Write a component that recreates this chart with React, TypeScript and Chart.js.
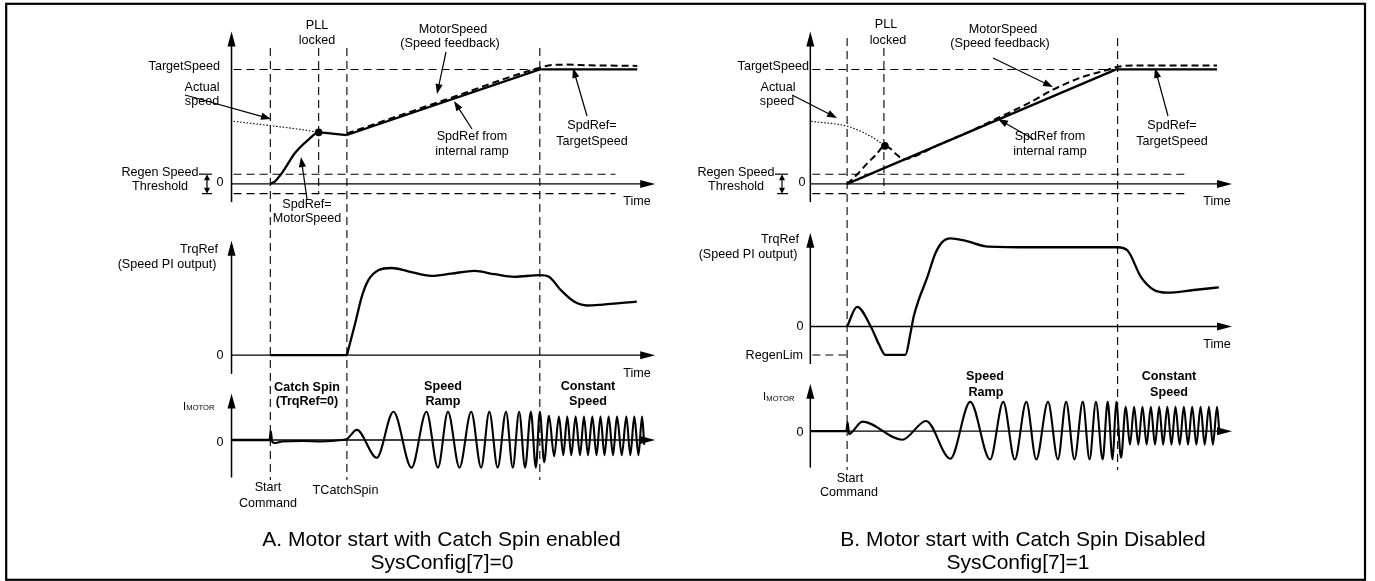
import React, { useEffect, useRef } from "react";
import { Chart, registerables } from "chart.js";

Chart.register(...registerables);

type Pt = [number, number];

// ======================= DATA =======================
// t = time units (same for both panels); speed in % of TargetSpeed;
// TrqRef in % of ramp torque; IMOTOR in % of ramp current amplitude.

// ---- Panel A: Catch Spin enabled (SysConfig[7]=0) ----
const eventTimesA = [9.75, 21.9, 29, 77.5]; // Start Command, PLL locked, TCatchSpin, end of ramp
const spdRefCatchA: Pt[] = [[9.75, 0], [11, 2.5], [12.75, 9.9], [16, 27.2], [19.5, 39.2], [21.9, 45], [25.25, 44], [29, 42.7]];
const spdRefRampA: Pt[] = [[29, 42.7], [77.5, 100], [102, 100]];
const motorSpeedA: Pt[] = [[29, 44], [53, 72.6], [77.5, 101.6], [80, 103.6], [84, 104.2], [90, 103.6], [102, 103.1]];
const actualSpeedA: Pt[] = [[0.5, 54.7], [9.75, 50.9], [17.75, 47.4], [21.9, 45]];
const pllLockA: Pt[] = [[21.9, 45]];
const trqZeroA: Pt[] = [[9.75, 0], [29, 0]];
const trqRefA: Pt[] = [[29, 0], [31.1, 40.8], [32.75, 74.2], [34.4, 95], [36.9, 107.5], [40.25, 110.4], [44.4, 106.25], [50.25, 100.4], [55.25, 103.3], [61.1, 106.7], [66.1, 102.5], [71.1, 99.2], [77.5, 101.25], [79.8, 99.2], [82.75, 82.5], [86.1, 67.9], [89.4, 62.9], [92.75, 63.75], [101.9, 67.9]];
const curIdleA: Pt[] = [[0, 0], [9.6, 0]];
const curMotorA: Pt[] = [[9.6, 0], [9.85, 30], [10.25, -6.7], [11, -10], [12.75, -5], [17.75, -3.3], [22.75, -5], [27.75, 0], [29, 3.3], [31.5, 34.3], [36.5, -60], [40.7, 95.7], [45.25, -93.3], [49, 95.7], [51.9, -93.3], [54.4, 95.7], [57.3, -93.3], [60.25, 95.7], [62.75, -93.3], [64.8, 95.7], [66.9, -93.3], [69, 95.7], [70.7, -93.3], [72.3, 95.7], [73.8, -93.3], [75.25, 95.7], [76.5, -93.3], [77.5, 95.7], [78.6, -75], [79.8, 82], [81.1, -55], [82.3, 79], [83.4, -51], [84.4, 79], [85.4, -51], [86.5, 79], [87.6, -51], [88.6, 79], [89.6, -51], [90.7, 79], [91.75, -51], [92.75, 79], [93.75, -51], [94.8, 79], [95.9, -51], [96.9, 79], [98.1, -51], [99.25, 79], [100.25, -51], [101.25, 79], [102.3, -51], [103.2, 79], [103.75, -16]];

// ---- Panel B: Catch Spin disabled (SysConfig[7]=1) ----
const eventTimesB = [9.25, 18.5, 77.25]; // Start Command, PLL locked, end of ramp
const spdRefRampB: Pt[] = [[9.25, 0], [76.9, 100], [102.25, 100]];
const motorSpeedB: Pt[] = [[9.25, 0], [11.75, 8.2], [14.25, 17.7], [16.5, 25.4], [18.75, 33.2], [20.25, 30.5], [21.75, 25.4], [23.5, 21.5], [26, 23.7], [32.25, 34.1], [39.75, 45.3], [47.25, 57.8], [54.75, 70.3], [61, 82.3], [68.5, 93.5], [74.75, 99.6], [77.25, 102.3], [82.25, 103.4], [102.25, 103.4]];
const actualSpeedB: Pt[] = [[0.2, 54.7], [9.3, 50.4], [13.1, 45.3], [16, 39.9], [18.75, 33.2]];
const pllLockB: Pt[] = [[18.75, 33.2]];
const trqRefB: Pt[] = [[9.25, 0], [11.75, 25], [15.2, 0], [17.25, -22.5], [18.9, -36], [23.9, -36], [25.2, -7.9], [26, 12.9], [27.25, 33.75], [29.3, 60.9], [31.4, 92.1], [33.1, 106.6], [35.2, 111.7], [38.9, 108.75], [44.75, 101.25], [56, 100.4], [77.25, 100.4], [79.75, 96.25], [83.1, 62.9], [86.4, 46.25], [89.75, 42.9], [96.4, 46.25], [102.7, 49.6]];
const curIdleB: Pt[] = [[0, 0], [9.1, 0]];
const curMotorB: Pt[] = [[9.1, 0], [9.375, 30], [9.75, -10], [10.5, -3], [13.1, 32.2], [23.1, -28.9], [29.1, 34.4], [35.2, -93.3], [40.2, 98.9], [45.2, -95.6], [48.5, 98.9], [51.4, -95.6], [54.3, 98.9], [56.8, -95.6], [59.75, 98.9], [62.25, -95.6], [64.3, 98.9], [66.4, -95.6], [68.5, 98.9], [70.2, -95.6], [71.8, 98.9], [73.5, -95.6], [74.75, 98.9], [76, -95.6], [76.9, 98.9], [78.1, -90], [79.3, 82], [80.35, -45.7], [81.4, 82], [82.45, -45.7], [83.5, 82], [84.55, -45.7], [85.6, 82], [86.65, -45.7], [87.7, 82], [88.7, -45.7], [89.75, 82], [90.8, -45.7], [91.8, 82], [92.85, -45.7], [93.9, 82], [94.95, -45.7], [96, 82], [97.05, -45.7], [98.1, 82], [99.15, -45.7], [100.2, 82], [101.2, -45.7], [102.25, 82], [102.8, 0]];

// reference levels
const targetSpeed = 100;
const regenSpeedThreshold = 8.5;
const regenLimB = -36;

// ======================= LAYOUT =======================
const W = 1375;
const H = 581;
const FONT = '"Liberation Sans", Arial, Helvetica, sans-serif';
const PX = { t: 4, spd: 1.16, trq: 0.8, cur: 0.3 };
const ORIGIN = {
  A: { x0: 229, spd0: 182.5, trq0: 356, cur0: 442 },
  B: { x0: 811, spd0: 182.5, trq0: 327, cur0: 433 },
};

const PANELS = [
  {
    x: "xA", s: "ySA", q: "yTA", i: "yIA",
    axSpd: [-15.9, 133.2], axTrq: [-23.75, 145], axCur: [-126.7, 156.7], tEnd: 106.5,
    targetEnd: 77.5, thrEnd: 96.5,
    events: eventTimesA, eventSpan: [[48, 480], [48, 193], [48, 480], [48, 480]],
    regenLim: null as null | number,
  },
  {
    x: "xB", s: "ySB", q: "yTB", i: "yIB",
    axSpd: [-15.9, 133.2], axTrq: [-47.5, 118.75], axCur: [-123.3, 160], tEnd: 106,
    targetEnd: 76.5, thrEnd: 94.25,
    events: eventTimesB, eventSpan: [[38, 470], [48, 193], [38, 470]],
    regenLim: regenLimB as null | number,
  },
];

// [text, x, y, align, style]
const TEXTS: [string, number, number, string?, string?][] = [
  ["PLL", 317, 26], ["locked", 317, 41],
  ["TargetSpeed", 220, 66.5, "r"],
  ["Actual", 202, 88], ["speed", 202, 102],
  ["MotorSpeed", 453, 30], ["(Speed feedback)", 450, 44],
  ["SpdRef from", 472, 137], ["internal ramp", 472, 152],
  ["SpdRef=", 592, 126], ["TargetSpeed", 592, 142],
  ["Regen Speed", 160, 173], ["Threshold", 160, 187],
  ["0", 220, 182.5],
  ["Time", 637, 202],
  ["SpdRef=", 307, 205], ["MotorSpeed", 307, 219],
  ["TrqRef", 199, 250], ["(Speed PI output)", 167, 265],
  ["0", 220, 356],
  ["Time", 637, 374],
  ["Catch Spin", 307, 388, "c", "b"], ["(TrqRef=0)", 307, 402, "c", "b"],
  ["Speed", 443, 387, "c", "b"], ["Ramp", 443, 402, "c", "b"],
  ["Constant", 588, 387, "c", "b"], ["Speed", 588, 402, "c", "b"],
  ["0", 220, 442.5],
  ["Start", 268, 488], ["Command", 268, 504],
  ["TCatchSpin", 345.5, 491],
  ["A. Motor start with Catch Spin enabled", 441.5, 540, "c", "t"],
  ["SysConfig[7]=0", 442, 563, "c", "t"],

  ["PLL", 886, 25], ["locked", 888, 41],
  ["TargetSpeed", 809, 66.5, "r"],
  ["Actual", 778, 88], ["speed", 777, 102],
  ["MotorSpeed", 1003, 30], ["(Speed feedback)", 1000, 44],
  ["SpdRef from", 1050, 137], ["internal ramp", 1050, 152],
  ["SpdRef=", 1172, 126], ["TargetSpeed", 1172, 142],
  ["Regen Speed", 736, 173], ["Threshold", 736, 187],
  ["0", 802, 182.5],
  ["Time", 1217, 202],
  ["TrqRef", 780, 240], ["(Speed PI output)", 748, 255],
  ["0", 800, 327],
  ["RegenLim", 803, 356, "r"],
  ["Time", 1217, 345],
  ["Speed", 985, 377, "c", "b"], ["Ramp", 986, 393, "c", "b"],
  ["Constant", 1169, 377, "c", "b"], ["Speed", 1169, 393, "c", "b"],
  ["0", 800, 433],
  ["Start", 850, 479], ["Command", 849, 493],
  ["B. Motor start with Catch Spin Disabled", 1023, 540, "c", "t"],
  ["SysConfig[7]=1", 1018, 563, "c", "t"],
];

// I_MOTOR labels: [x of "I", y]
const IMOTOR_LABELS: [number, number][] = [[183, 406.5], [763, 397]];

// annotation arrows [x1, y1, x2(tip), y2(tip)]
const POINTERS: [number, number, number, number][] = [
  [185, 95, 271, 119], [446, 52, 437, 94], [472, 129, 454, 101], [587, 116, 573, 68], [307, 199, 301, 157],
  [792, 95, 837, 118], [993, 58, 1053, 87], [1033, 139, 998, 119], [1168, 116, 1155, 68],
];
// Regen speed threshold double arrows: [x, textEnd, tickEnd]
const THR_MARKS: [number, number, number, number][] = [[207, 199, 202, 212], [782, 775, 777, 788]];

// ======================= HELPERS =======================
function xRange(originPx: number, ppu: number) {
  const min = -originPx / ppu;
  return { min, max: min + W / ppu };
}
function yRange(zeroPx: number, ppu: number) {
  const max = zeroPx / ppu;
  return { min: max - H / ppu, max };
}
function xScale(originPx: number) {
  return { type: "linear", axis: "x", display: false, bounds: "data", ...xRange(originPx, PX.t) };
}
function yScale(zeroPx: number, ppu: number) {
  return { type: "linear", axis: "y", display: false, bounds: "data", ...yRange(zeroPx, ppu) };
}

function line(points: Pt[], x: string, y: string, opts: any = {}) {
  return {
    type: "line",
    data: points.map(([a, b]) => ({ x: a, y: b })),
    xAxisID: x,
    yAxisID: y,
    borderColor: "#000",
    borderWidth: opts.width ?? 2.3,
    borderDash: opts.dash ?? [],
    borderCapStyle: "butt",
    borderJoinStyle: "round",
    cubicInterpolationMode: opts.smooth ? "monotone" : "default",
    tension: 0,
    pointRadius: 0,
    pointHoverRadius: 0,
    fill: false,
    showLine: true,
  };
}
function dot(points: Pt[], x: string, y: string) {
  return {
    type: "line",
    data: points.map(([a, b]) => ({ x: a, y: b })),
    xAxisID: x,
    yAxisID: y,
    showLine: false,
    pointRadius: 3.8,
    pointHoverRadius: 3.8,
    pointBackgroundColor: "#000",
    pointBorderColor: "#000",
    pointBorderWidth: 0,
  };
}

function seg(ctx: CanvasRenderingContext2D, x1: number, y1: number, x2: number, y2: number, w: number, dash: number[] = []) {
  ctx.save();
  ctx.strokeStyle = "#000";
  ctx.lineWidth = w;
  ctx.setLineDash(dash);
  ctx.beginPath();
  ctx.moveTo(x1, y1);
  ctx.lineTo(x2, y2);
  ctx.stroke();
  ctx.restore();
}
function head(ctx: CanvasRenderingContext2D, x1: number, y1: number, x2: number, y2: number, len: number, half: number) {
  const a = Math.atan2(y2 - y1, x2 - x1);
  const c = Math.cos(a), s = Math.sin(a);
  ctx.save();
  ctx.fillStyle = "#000";
  ctx.beginPath();
  ctx.moveTo(x2, y2);
  ctx.lineTo(x2 - len * c + half * s, y2 - len * s - half * c);
  ctx.lineTo(x2 - len * c - half * s, y2 - len * s + half * c);
  ctx.closePath();
  ctx.fill();
  ctx.restore();
}
function arrow(ctx: CanvasRenderingContext2D, x1: number, y1: number, x2: number, y2: number, w: number, len: number, half: number) {
  const a = Math.atan2(y2 - y1, x2 - x1);
  seg(ctx, x1, y1, x2 - len * 0.7 * Math.cos(a), y2 - len * 0.7 * Math.sin(a), w);
  head(ctx, x1, y1, x2, y2, len, half);
}

const DASH = [8, 5];

const diagramPlugin = {
  id: "diagram",
  beforeDraw(chart: any) {
    const ctx = chart.ctx;
    ctx.save();
    ctx.fillStyle = "#fff";
    ctx.fillRect(0, 0, chart.width, chart.height);
    ctx.restore();
  },
  beforeDatasetsDraw(chart: any) {
    const ctx: CanvasRenderingContext2D = chart.ctx;
    for (const p of PANELS) {
      const X = chart.scales[p.x], S = chart.scales[p.s], Q = chart.scales[p.q], I = chart.scales[p.i];
      const x0 = X.getPixelForValue(0);
      const xEnd = X.getPixelForValue(p.tEnd);
      const axes: [any, number[]][] = [[S, p.axSpd], [Q, p.axTrq], [I, p.axCur]];
      for (const [sc, ext] of axes) {
        arrow(ctx, x0, sc.getPixelForValue(ext[0]), x0, sc.getPixelForValue(ext[1]), 1.5, 15, 4);
        const yz = sc.getPixelForValue(0);
        arrow(ctx, x0, yz, xEnd, yz, 1.3, 15, 4);
      }
      // TargetSpeed level
      const yT = S.getPixelForValue(targetSpeed);
      seg(ctx, x0 + 2, yT, X.getPixelForValue(p.targetEnd), yT, 1.1, DASH);
      // regen speed threshold band
      for (const lv of [regenSpeedThreshold, -regenSpeedThreshold]) {
        const y = S.getPixelForValue(lv);
        seg(ctx, x0 + 2, y, X.getPixelForValue(p.thrEnd), y, 1.1, DASH);
      }
      // RegenLim
      if (p.regenLim !== null) {
        const y = Q.getPixelForValue(p.regenLim);
        seg(ctx, x0 + 2, y, X.getPixelForValue(p.events[0]), y, 1.1, DASH);
      }
      // event lines
      p.events.forEach((t, k) => {
        const x = X.getPixelForValue(t);
        seg(ctx, x, p.eventSpan[k][0], x, p.eventSpan[k][1], 1.1, DASH);
      });
    }
  },
  afterDatasetsDraw(chart: any) {
    const ctx: CanvasRenderingContext2D = chart.ctx;
    ctx.save();
    ctx.fillStyle = "#000";
    ctx.textBaseline = "middle";
    for (const [txt, x, y, al, st] of TEXTS) {
      ctx.font = st === "b" ? `bold 12.6px ${FONT}` : st === "t" ? `21px ${FONT}` : `12.6px ${FONT}`;
      ctx.textAlign = al === "r" ? "right" : al === "l" ? "left" : "center";
      ctx.fillText(txt, x, y);
    }
    ctx.textAlign = "left";
    for (const [x, y] of IMOTOR_LABELS) {
      ctx.font = `11px ${FONT}`;
      ctx.fillText("I", x, y);
      ctx.font = `7.6px ${FONT}`;
      ctx.fillText("MOTOR", x + 3.3, y + 1.5);
    }
    ctx.restore();

    for (const [x1, y1, x2, y2] of POINTERS) arrow(ctx, x1, y1, x2, y2, 1.2, 10, 3.6);

    for (const [x, tx, t0, t1] of THR_MARKS) {
      const S = chart.scales["ySA"];
      const yu = S.getPixelForValue(regenSpeedThreshold);
      const yd = S.getPixelForValue(-regenSpeedThreshold);
      seg(ctx, tx, yu, t1, yu, 1.2);
      seg(ctx, t0, yd, t1, yd, 1.2);
      seg(ctx, x, yu + 4, x, yd - 4, 1.2);
      head(ctx, x, yd, x, yu, 6, 3);
      head(ctx, x, yu, x, yd, 6, 3);
    }

    ctx.save();
    ctx.strokeStyle = "#000";
    ctx.lineWidth = 2.2;
    ctx.strokeRect(6.2, 3.8, 1358.8, 576);
    ctx.restore();
  },
};

export default function App() {
  const ref = useRef<HTMLCanvasElement>(null);
  useEffect(() => {
    if (!ref.current) return;
    const datasets: any[] = [
      line(spdRefCatchA, "xA", "ySA", { smooth: true }),
      line(spdRefRampA, "xA", "ySA"),
      line(motorSpeedA, "xA", "ySA", { smooth: true, dash: [7, 4], width: 2 }),
      line(actualSpeedA, "xA", "ySA", { smooth: true, dash: [1.5, 1.8], width: 1.1 }),
      dot(pllLockA, "xA", "ySA"),
      line(trqZeroA, "xA", "yTA"),
      line(trqRefA, "xA", "yTA", { smooth: true }),
      line(curIdleA, "xA", "yIA"),
      line(curMotorA, "xA", "yIA", { smooth: true, width: 2.1 }),

      line(spdRefRampB, "xB", "ySB"),
      line(motorSpeedB, "xB", "ySB", { smooth: true, dash: [7, 4], width: 2 }),
      line(actualSpeedB, "xB", "ySB", { smooth: true, dash: [1.5, 1.8], width: 1.1 }),
      dot(pllLockB, "xB", "ySB"),
      line(trqRefB, "xB", "yTB", { smooth: true }),
      line(curIdleB, "xB", "yIB"),
      line(curMotorB, "xB", "yIB", { smooth: true, width: 2.1 }),
    ];
    const chart = new Chart(ref.current, {
      type: "line",
      data: { datasets },
      options: {
        responsive: false,
        animation: false,
        events: [],
        devicePixelRatio: 1,
        layout: { padding: 0 },
        plugins: { legend: { display: false }, tooltip: { enabled: false }, title: { display: false } },
        scales: {
          xA: xScale(ORIGIN.A.x0),
          xB: xScale(ORIGIN.B.x0),
          ySA: yScale(ORIGIN.A.spd0, PX.spd),
          yTA: yScale(ORIGIN.A.trq0, PX.trq),
          yIA: yScale(ORIGIN.A.cur0, PX.cur),
          ySB: yScale(ORIGIN.B.spd0, PX.spd),
          yTB: yScale(ORIGIN.B.trq0, PX.trq),
          yIB: yScale(ORIGIN.B.cur0, PX.cur),
        },
      } as any,
      plugins: [diagramPlugin],
    } as any);
    return () => chart.destroy();
  }, []);
  return (
    <div style={{ position: "fixed", left: 0, top: 0, width: W, height: H, background: "#fff" }}>
      <canvas ref={ref} width={W} height={H} style={{ display: "block", width: W, height: H }} />
    </div>
  );
}
